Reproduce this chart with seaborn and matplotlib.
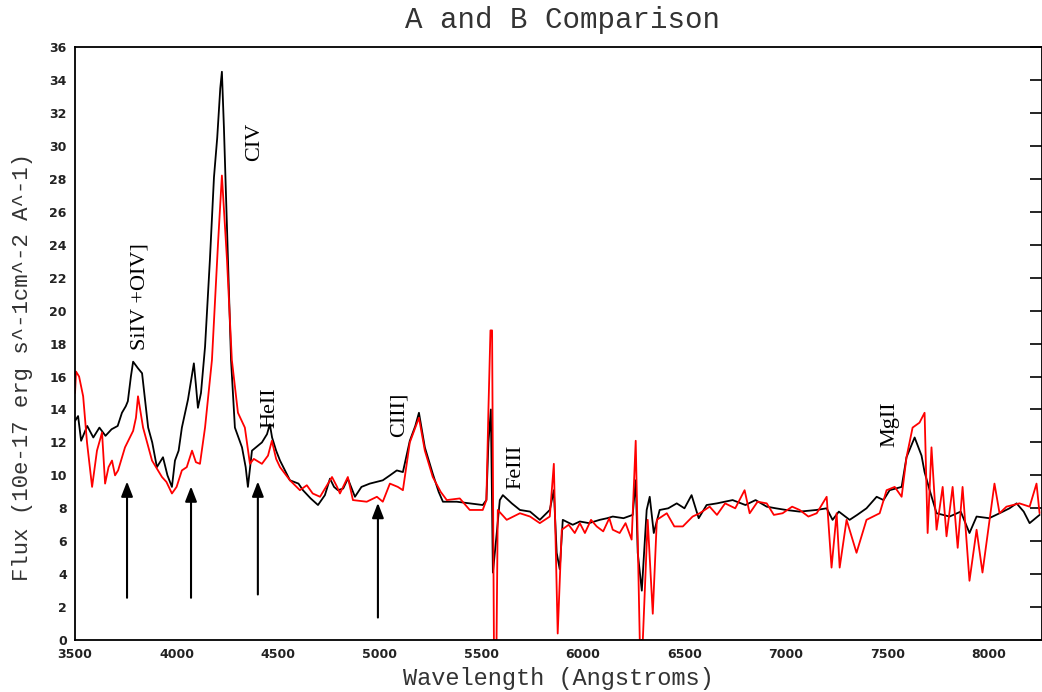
import numpy as np
import pandas as pd
import matplotlib
matplotlib.use('Agg')
import matplotlib.pyplot as plt
import seaborn as sns

# Spectrum A (black)
wave_a = [3500, 3515, 3530, 3560, 3590, 3620, 3650, 3680, 3710, 3731, 3750, 3760, 3775,
          3786, 3810, 3830, 3860, 3880, 3903, 3933, 3955, 3977, 3992, 4010, 4026, 4056,
          4085, 4095, 4105, 4120, 4140, 4164, 4184, 4200, 4215, 4223, 4233, 4248, 4268,
          4287, 4322, 4340, 4351, 4371, 4400, 4420, 4445, 4459, 4470, 4490, 4509, 4558,
          4600, 4622, 4660, 4696, 4730, 4755, 4775, 4794, 4820, 4843, 4878, 4910, 4951,
          5015, 5050, 5084, 5114, 5148, 5175, 5193, 5222, 5261, 5290, 5311, 5379, 5443,
          5507, 5525, 5535, 5547, 5557, 5576, 5591, 5606, 5650, 5690, 5740, 5788, 5837,
          5857, 5871, 5886, 5901, 5950, 5985, 6030, 6083, 6120, 6147, 6200, 6245, 6260,
          6270, 6290, 6314, 6329, 6349, 6378, 6420, 6462, 6500, 6535, 6570, 6609, 6660,
          6737, 6800, 6850, 6905, 6950, 7000, 7067, 7150, 7200, 7229, 7260, 7313, 7350,
          7396, 7446, 7480, 7510, 7569, 7593, 7633, 7667, 7682, 7707, 7741, 7805, 7860,
          7903, 7938, 8000, 8051, 8100, 8135, 8170, 8199, 8248]
flux_a = [13.3, 13.6, 12.1, 13.0, 12.3, 12.9, 12.4, 12.8, 13.0, 13.8, 14.2, 14.5, 16.0,
          16.9, 16.5, 16.2, 12.9, 12.0, 10.5, 11.1, 10.0, 9.3, 10.9, 11.5, 12.9, 14.6,
          16.8, 15.5, 14.1, 15.0, 17.8, 23.1, 28.1, 30.5, 33.5, 34.5, 31.1, 25.1, 17.0,
          12.9, 11.7, 10.5, 9.3, 11.5, 11.8, 12.0, 12.5, 13.1, 12.3, 11.5, 10.9, 9.7,
          9.5, 9.1, 8.6, 8.2, 8.8, 9.8, 9.3, 9.1, 9.2, 9.8, 8.7, 9.3, 9.5,
          9.7, 10.0, 10.3, 10.2, 12.1, 13.0, 13.8, 11.7, 10.1, 9.0, 8.4, 8.4, 8.3,
          8.2, 8.5, 12.0, 14.0, 4.1, 6.5, 8.5, 8.8, 8.3, 7.9, 7.8, 7.3, 7.9,
          9.1, 5.3, 4.3, 7.3, 7.0, 7.2, 7.1, 7.3, 7.4, 7.5, 7.4, 7.6, 9.7,
          5.3, 3.0, 7.9, 8.7, 6.5, 7.9, 8.0, 8.3, 8.0, 8.8, 7.4, 8.2, 8.3,
          8.5, 8.2, 8.5, 8.1, 8.0, 7.9, 7.8, 7.9, 8.0, 7.3, 7.8, 7.3, 7.6,
          8.0, 8.7, 8.5, 9.1, 9.3, 11.1, 12.3, 11.2, 10.2, 9.1, 7.7, 7.5, 7.8,
          6.5, 7.5, 7.4, 7.7, 8.0, 8.3, 7.8, 7.1, 7.6]

# Spectrum B (red)
wave_b = [3500, 3505, 3520, 3540, 3559, 3584, 3608, 3633, 3648, 3665, 3682, 3697, 3712,
          3746, 3786, 3800, 3810, 3835, 3879, 3928, 3950, 3977, 4000, 4026, 4050, 4076,
          4095, 4115, 4140, 4174, 4204, 4223, 4248, 4272, 4302, 4336, 4361, 4380, 4420,
          4450, 4469, 4490, 4509, 4558, 4607, 4641, 4670, 4706, 4765, 4790, 4804, 4843,
          4868, 4936, 4986, 5015, 5050, 5089, 5114, 5148, 5193, 5222, 5261, 5300, 5330,
          5394, 5443, 5507, 5525, 5535, 5545, 5553, 5562, 5575, 5581, 5625, 5690, 5740,
          5788, 5837, 5857, 5876, 5896, 5930, 5960, 5985, 6010, 6040, 6068, 6100, 6130,
          6147, 6181, 6210, 6240, 6260, 6280, 6295, 6319, 6344, 6364, 6413, 6450, 6492,
          6540, 6575, 6624, 6660, 6700, 6750, 6796, 6821, 6860, 6905, 6940, 6983, 7030,
          7067, 7110, 7151, 7200, 7224, 7249, 7264, 7298, 7347, 7396, 7461, 7495, 7535,
          7569, 7593, 7623, 7657, 7682, 7697, 7716, 7741, 7771, 7790, 7820, 7845, 7869,
          7903, 7938, 7967, 8002, 8026, 8051, 8085, 8149, 8199, 8233, 8248]
flux_b = [15.0, 16.3, 16.0, 14.8, 12.0, 9.3, 11.5, 12.6, 9.5, 10.5, 10.9, 10.0, 10.3,
          11.7, 12.7, 13.5, 14.8, 12.9, 10.9, 9.9, 9.6, 8.9, 9.3, 10.3, 10.5, 11.5,
          10.8, 10.7, 12.9, 17.0, 24.1, 28.2, 23.1, 17.0, 13.8, 12.9, 10.7, 11.0, 10.7,
          11.2, 12.1, 11.0, 10.5, 9.7, 9.1, 9.4, 8.9, 8.7, 9.9, 9.3, 8.9, 9.9,
          8.5, 8.4, 8.7, 8.4, 9.5, 9.3, 9.1, 12.0, 13.5, 11.5, 9.9, 9.0, 8.5,
          8.6, 7.9, 7.9, 8.5, 14.0, 18.8, 18.8, 0.0, 0.0, 7.9, 7.3, 7.7, 7.5,
          7.1, 7.5, 10.7, 0.4, 6.7, 7.0, 6.5, 7.1, 6.5, 7.3, 6.9, 6.6, 7.4,
          6.7, 6.5, 7.1, 6.1, 12.1, 0.0, 0.0, 7.3, 1.6, 7.3, 7.7, 6.9, 6.9,
          7.5, 7.7, 8.1, 7.6, 8.3, 8.0, 9.1, 7.7, 8.4, 8.3, 7.6, 7.7, 8.1,
          7.9, 7.5, 7.7, 8.7, 4.4, 7.7, 4.4, 7.3, 5.3, 7.3, 7.7, 9.1, 9.3,
          8.7, 11.1, 12.9, 13.2, 13.8, 6.5, 11.7, 6.7, 9.3, 6.3, 9.3, 5.6, 9.3,
          3.6, 6.7, 4.1, 7.3, 9.5, 7.7, 8.1, 8.3, 8.1, 9.5, 7.7]

# Line labels: (text, wavelength, flux at label base)
line_names = ['SiIV +OIV]', 'CIV', 'HeII', 'CIII]', 'FeIII', 'MgII']
line_wave = [3820, 4386, 4459, 5094, 5670, 7510]
line_flux = [17.6, 29.1, 12.9, 12.3, 9.2, 11.7]

# Arrows: wavelength, tail flux, tip flux
arrow_wave = [3756, 4071, 4400, 4991]
arrow_tail = [2.4, 2.4, 2.6, 1.2]
arrow_tip = [9.8, 9.5, 9.8, 8.5]

x_ticks = list(range(3500, 8001, 500))
y_ticks = list(range(0, 37, 2))

df_a = pd.DataFrame({'wave': wave_a, 'flux': flux_a})
df_b = pd.DataFrame({'wave': wave_b, 'flux': flux_b})

sns.set_style('white')

fig = plt.figure(figsize=(10.42, 6.92), dpi=100)
ax = fig.add_axes([0.072, 0.075, 0.928, 0.857])

sns.lineplot(data=df_a, x='wave', y='flux', color='black', lw=1.3,
             sort=False, estimator=None, ax=ax)
sns.lineplot(data=df_b, x='wave', y='flux', color='#ff0000', lw=1.3,
             sort=False, estimator=None, ax=ax)

for name, w, f in zip(line_names, line_wave, line_flux):
    ax.text(w, f, name, rotation=90, ha='center', va='bottom',
            family='Liberation Serif', fontsize=16, color='black')

for w, t0, t1 in zip(arrow_wave, arrow_tail, arrow_tip):
    ax.annotate('', xy=(w, t1), xytext=(w, t0),
                arrowprops=dict(arrowstyle='-|>,head_length=0.9,head_width=0.35',
                                color='black', lw=1.5))

ax.set_xlim(3500, 8260)
ax.set_ylim(0, 36)
ax.set_xticks(x_ticks)
ax.set_yticks(y_ticks)
ax.tick_params(direction='in', length=9, width=1.2, top=False, right=True,
               labelsize=9, colors='black', pad=6)
for lab in ax.get_xticklabels() + ax.get_yticklabels():
    lab.set_fontweight('bold')
    lab.set_color('#222222')
for sp in ax.spines.values():
    sp.set_color('black')
    sp.set_linewidth(1.3)

ax.set_xlabel('Wavelength (Angstroms)', family='Liberation Mono', fontsize=17,
              color='#333333')
ax.xaxis.set_label_coords(0.5, -0.045)
ax.set_ylabel('Flux (10e-17 erg s^-1cm^-2 A^-1)', family='Liberation Mono',
              fontsize=16, color='#333333')
ax.yaxis.set_label_coords(-0.043, 0.46)
fig.text(0.54, 0.971, 'A and B Comparison', family='Liberation Mono', fontsize=21,
         color='#333333', ha='center', va='center')

fig.savefig('out.png', dpi=100)
